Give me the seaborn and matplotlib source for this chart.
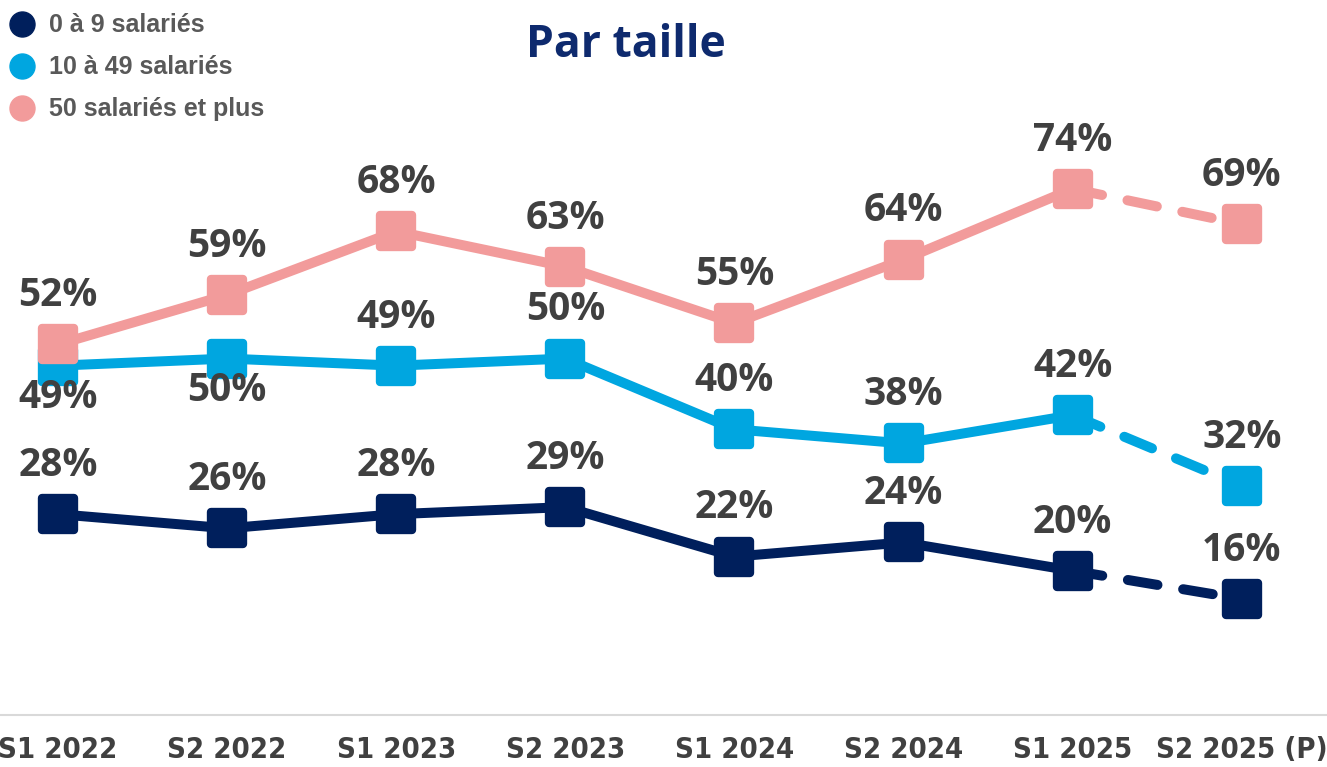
import pandas as pd
import matplotlib
matplotlib.use("Agg")
import matplotlib.pyplot as plt
from matplotlib.markers import MarkerStyle
from matplotlib.lines import Line2D
import seaborn as sns

# Data
periods = ["S1 2022", "S2 2022", "S1 2023", "S2 2023", "S1 2024", "S2 2024", "S1 2025", "S2 2025 (P)"]
small = [28, 26, 28, 29, 22, 24, 20, 16]
medium = [49, 50, 49, 50, 40, 38, 42, 32]
large = [52, 59, 68, 63, 55, 64, 74, 69]
series_names = ["0 à 9 salariés", "10 à 49 salariés", "50 salariés et plus"]

colors = ["#001f5c", "#00a6e0", "#f29b9b"]
# label placement: +1 above, -1 below
label_side = [
    [1] * 8,
    [-1, -1, 1, 1, 1, 1, 1, 1],
    [1] * 8,
]

sns.set_style("white")
plt.rcParams["font.family"] = ["Open Sans", "DejaVu Sans"]

fig = plt.figure(figsize=(13.27, 7.67), dpi=100)
ax = fig.add_axes([0, 0.0678, 1, 0.9257])

xs = list(range(len(periods)))
sq = MarkerStyle("s", joinstyle="round")

for vals, col, sides, z in zip([small, medium, large], colors, label_side, [3, 4, 5]):
    df = pd.DataFrame({"x": xs, "y": vals})
    # dashed forecast segment
    sns.lineplot(data=df.iloc[6:], x="x", y="y", color=col, lw=7.2,
                 ls=(0, (3.0, 2.6)), dash_capstyle="round",
                 marker=sq, ms=23, mew=6, mec=col, mfc=col,
                 markevery=[1], ax=ax, zorder=z)
    # solid part
    sns.lineplot(data=df.iloc[:7], x="x", y="y", color=col, lw=7.2,
                 solid_capstyle="round", solid_joinstyle="round",
                 marker=sq, ms=23, mew=6, mec=col, mfc=col,
                 ax=ax, zorder=z + 0.5)
    for x, v, s in zip(xs, vals, sides):
        off = 35 if s > 0 else -23
        ax.annotate(f"{v}%", (x, v), xytext=(0, off), textcoords="offset points",
                    ha="center", va="center", fontsize=28, fontweight="bold",
                    color="#404040", zorder=10)

ax.set_xlim(-0.343, 7.504)
ax.set_ylim(-0.4, 100)
ax.set_xticks(xs)
ax.set_xticklabels(periods, fontsize=21, fontweight="bold", color="#404040",
                   family="DejaVu Sans", fontstretch="condensed")
ax.set_yticks([])
ax.set_xlabel("")
ax.set_ylabel("")
ax.tick_params(axis="x", length=0, pad=15)
for sp in ["top", "left", "right"]:
    ax.spines[sp].set_visible(False)
ax.spines["bottom"].set_color("#d9d9d9")
ax.spines["bottom"].set_linewidth(1.5)

# legend
handles = [Line2D([], [], ls="", marker="o", ms=18, color=c) for c in colors]
fig.legend(handles, series_names, loc="upper left", bbox_to_anchor=(-0.012, 1.012),
           frameon=False, handletextpad=0.5, labelspacing=0.72, handlelength=1.2,
           prop={"family": "Liberation Sans", "size": 18, "weight": "bold"},
           labelcolor="#595959")

fig.text(0.472, 0.941, "Par taille", ha="center", va="center", fontsize=32,
         fontweight="bold", color="#0e2a6e")

plt.savefig("out.png", dpi=100)
plt.close()
